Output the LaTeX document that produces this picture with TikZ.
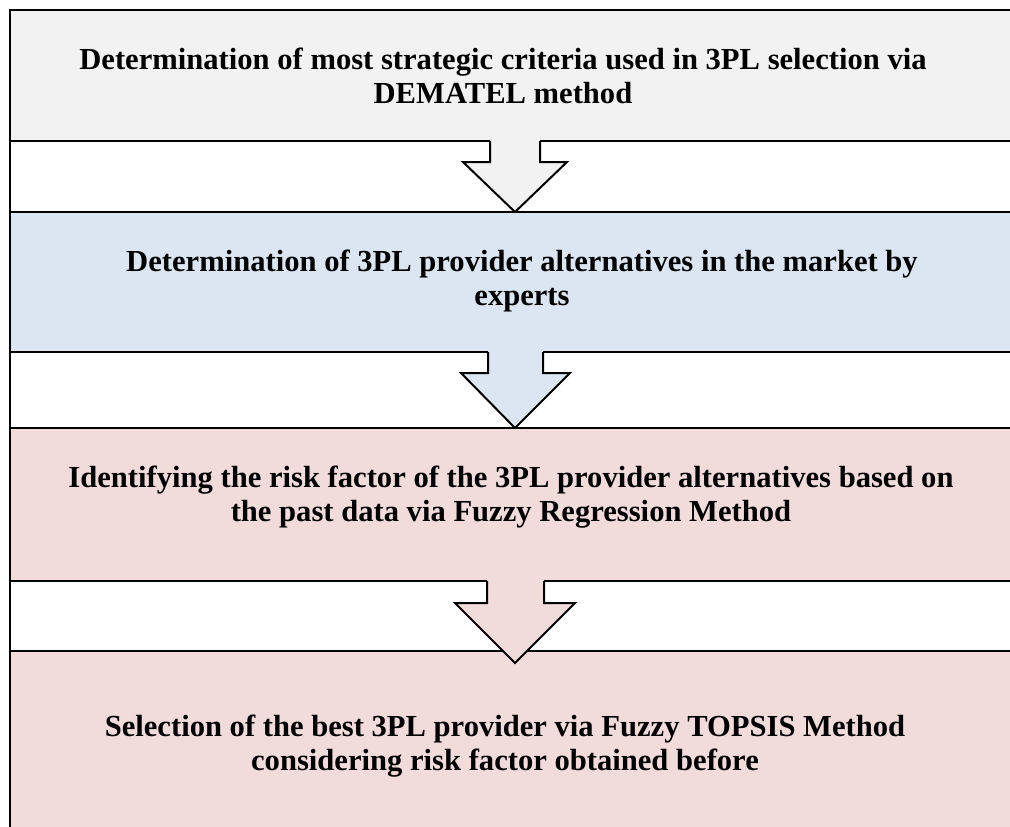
\documentclass[tikz,border=0pt]{standalone}
\usepackage{fontspec}
\setmainfont{Liberation Serif}
\definecolor{boxgray}{HTML}{F2F2F2}
\definecolor{boxblue}{HTML}{DCE6F2}
\definecolor{boxpink}{HTML}{F2DCDB}
\newcommand{\blockarrow}[8]{%
  % #1 top y, #2 shaft left, #3 shaft right, #4 shoulder y, #5 head left, #6 head right, #7 tip y, #8 colour
  \fill[#8] (#2,#1-1.6) -- (#2,#4) -- (#5,#4) -- (515,#7) -- (#6,#4) -- (#3,#4) -- (#3,#1-1.6) -- cycle;
  \draw[edge] (#2,#1) -- (#2,#4) -- (#5,#4) -- (515,#7) -- (#6,#4) -- (#3,#4) -- (#3,#1);
}
\begin{document}
\begin{tikzpicture}[x=1pt,y=-1pt,
  edge/.style={line width=2pt, black, line join=miter},
  lbl/.style={font=\fontsize{30.6}{34.5}\selectfont\bfseries, align=center, inner sep=0pt}]
\useasboundingbox (0,0) rectangle (1010,827);
\clip (0,0) rectangle (1010,827);
% boxes
\fill[boxgray] (10,10) rectangle (1020,141);
\fill[boxblue] (10,212) rectangle (1020,352);
\fill[boxpink] (10,428) rectangle (1020,581);
\fill[boxpink] (10,651) rectangle (1020,840);
\foreach \yy in {10,141,212,352,428,581,651}
  \draw[edge] (9,\yy) -- (1020,\yy);
\draw[edge] (10,9) -- (10,830);
% labels
\node[lbl] (t1) at (503,76) {Determination of most strategic criteria used in 3PL selection via\\DEMATEL method};
\node[lbl] (t2) at (522,281) {Determination of 3PL provider alternatives in the market by\\experts};
\node[lbl] (t3) at (511,497) {Identifying the risk factor of the 3PL provider alternatives based on\\the past data via Fuzzy Regression Method};
\node[lbl] (t4) at (505,746) {Selection of the best 3PL provider via Fuzzy TOPSIS Method\\considering risk factor obtained before};
% block arrows
\blockarrow{141}{490}{540}{162}{463}{567}{212}{boxgray}
\blockarrow{352}{488}{543}{373}{461}{570}{428}{boxblue}
\blockarrow{581}{487}{544}{603}{455}{575}{663}{boxpink}
\end{tikzpicture}
\end{document}
